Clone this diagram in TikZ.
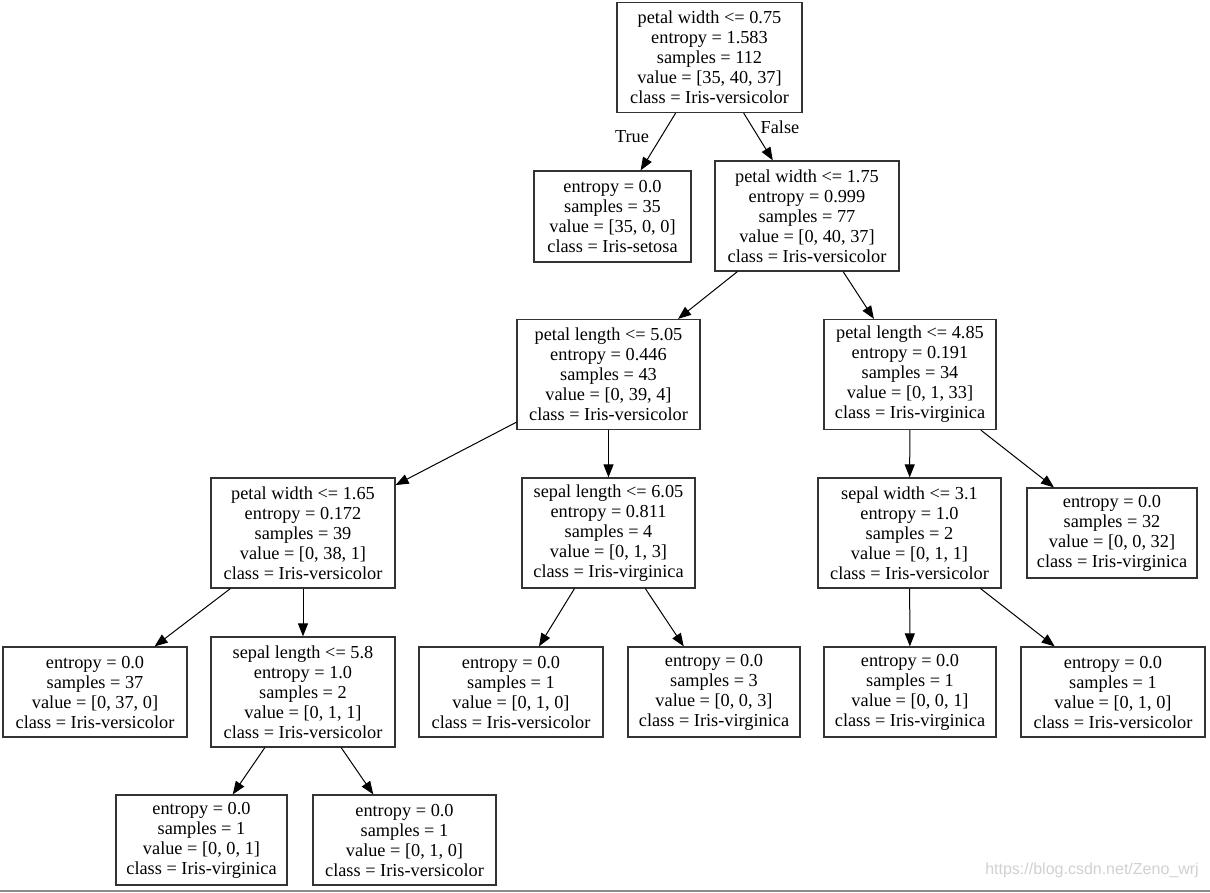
\documentclass[tikz,border=0pt]{standalone}
\usepackage{fontspec}
\setmainfont{Liberation Serif}
\newfontfamily\wmfont{Liberation Sans}
\usetikzlibrary{arrows.meta}
\begin{document}
\begin{tikzpicture}[x=1pt,y=-1pt,
  tbox/.style={draw=black!80,line width=1.2pt,align=center,inner sep=0pt,
    minimum height=#1pt,font=\fontsize{18.3}{20}\selectfont},
  tbox/.default=110,
  arr/.style={draw=black,line width=1pt,-{Triangle[length=13pt,width=10pt]}},
  elab/.style={font=\fontsize{18.3}{20}\selectfont,inner sep=0pt}]
\useasboundingbox (0,0) rectangle (1210,893);
\fill[white] (0,0) rectangle (1210,893);
% nodes
\node[tbox,minimum width=185pt] (n0) at (709.5,57.5) {petal width <= 0.75\\entropy = 1.583\\samples = 112\\value = [35, 40, 37]\\class = Iris-versicolor};
\node[tbox=91,minimum width=157pt] (n1) at (612.5,216.5) {entropy = 0.0\\samples = 35\\value = [35, 0, 0]\\class = Iris-setosa};
\node[tbox,minimum width=184pt] (n2) at (807,216) {petal width <= 1.75\\entropy = 0.999\\samples = 77\\value = [0, 40, 37]\\class = Iris-versicolor};
\node[tbox,minimum width=183pt] (n3) at (608.5,374.5) {petal length <= 5.05\\entropy = 0.446\\samples = 43\\value = [0, 39, 4]\\class = Iris-versicolor};
\node[tbox,minimum width=172pt] (n4) at (910,374.5) {petal length <= 4.85\\entropy = 0.191\\samples = 34\\value = [0, 1, 33]\\class = Iris-virginica};
\node[tbox,minimum width=184pt] (n5) at (303,533) {petal width <= 1.65\\entropy = 0.172\\samples = 39\\value = [0, 38, 1]\\class = Iris-versicolor};
\node[tbox,minimum width=173pt] (n6) at (608.5,533) {sepal length <= 6.05\\entropy = 0.811\\samples = 4\\value = [0, 1, 3]\\class = Iris-virginica};
\node[tbox,minimum width=183pt] (n7) at (909.5,533) {sepal width <= 3.1\\entropy = 1.0\\samples = 2\\value = [0, 1, 1]\\class = Iris-versicolor};
\node[tbox=90,minimum width=170pt] (n8) at (1112,533) {entropy = 0.0\\samples = 32\\value = [0, 0, 32]\\class = Iris-virginica};
\node[tbox=90,minimum width=184pt] (n9) at (95,692) {entropy = 0.0\\samples = 37\\value = [0, 37, 0]\\class = Iris-versicolor};
\node[tbox,minimum width=184pt] (n10) at (303,692) {sepal length <= 5.8\\entropy = 1.0\\samples = 2\\value = [0, 1, 1]\\class = Iris-versicolor};
\node[tbox=90,minimum width=184pt] (n11) at (511,692) {entropy = 0.0\\samples = 1\\value = [0, 1, 0]\\class = Iris-versicolor};
\node[tbox=90,minimum width=172pt] (n12) at (714,692) {entropy = 0.0\\samples = 3\\value = [0, 0, 3]\\class = Iris-virginica};
\node[tbox=90,minimum width=172pt] (n13) at (910,692) {entropy = 0.0\\samples = 1\\value = [0, 0, 1]\\class = Iris-virginica};
\node[tbox=90,minimum width=184pt] (n14) at (1113,692) {entropy = 0.0\\samples = 1\\value = [0, 1, 0]\\class = Iris-versicolor};
\node[tbox=90,minimum width=171pt] (n15) at (201.5,840) {entropy = 0.0\\samples = 1\\value = [0, 0, 1]\\class = Iris-virginica};
\node[tbox=90,minimum width=183pt] (n16) at (404.5,840) {entropy = 0.0\\samples = 1\\value = [0, 1, 0]\\class = Iris-versicolor};
% edges
\draw[arr] (n0) -- (n1);
\draw[arr] (n0) -- (n2);
\draw[arr] (n2) -- (n3);
\draw[arr] (n2) -- (n4);
\draw[arr] (n3) -- (n5);
\draw[arr] (n3) -- (n6);
\draw[arr] (n4) -- (n7);
\draw[arr] (n4) -- (n8);
\draw[arr] (n5) -- (n9);
\draw[arr] (n5) -- (n10);
\draw[arr] (n6) -- (n11);
\draw[arr] (n6) -- (n12);
\draw[arr] (n7) -- (n13);
\draw[arr] (n7) -- (n14);
\draw[arr] (n10) -- (n15);
\draw[arr] (n10) -- (n16);
% edge labels
\node[elab] (lt) at (632,137) {True};
\node[elab] (lf) at (780,127) {False};
% watermark and bottom rule
\node[font=\wmfont\fontsize{16}{18}\selectfont,text=black!18,inner sep=0pt] (wm) at (1092,870) {https://blog.csdn.net/Zeno\_wrj};
\coordinate (bl) at (0,890.5);
\coordinate (br) at (1210,890.5);
\draw[black!45,line width=2pt] (bl) -- (br);
\end{tikzpicture}
\end{document}
